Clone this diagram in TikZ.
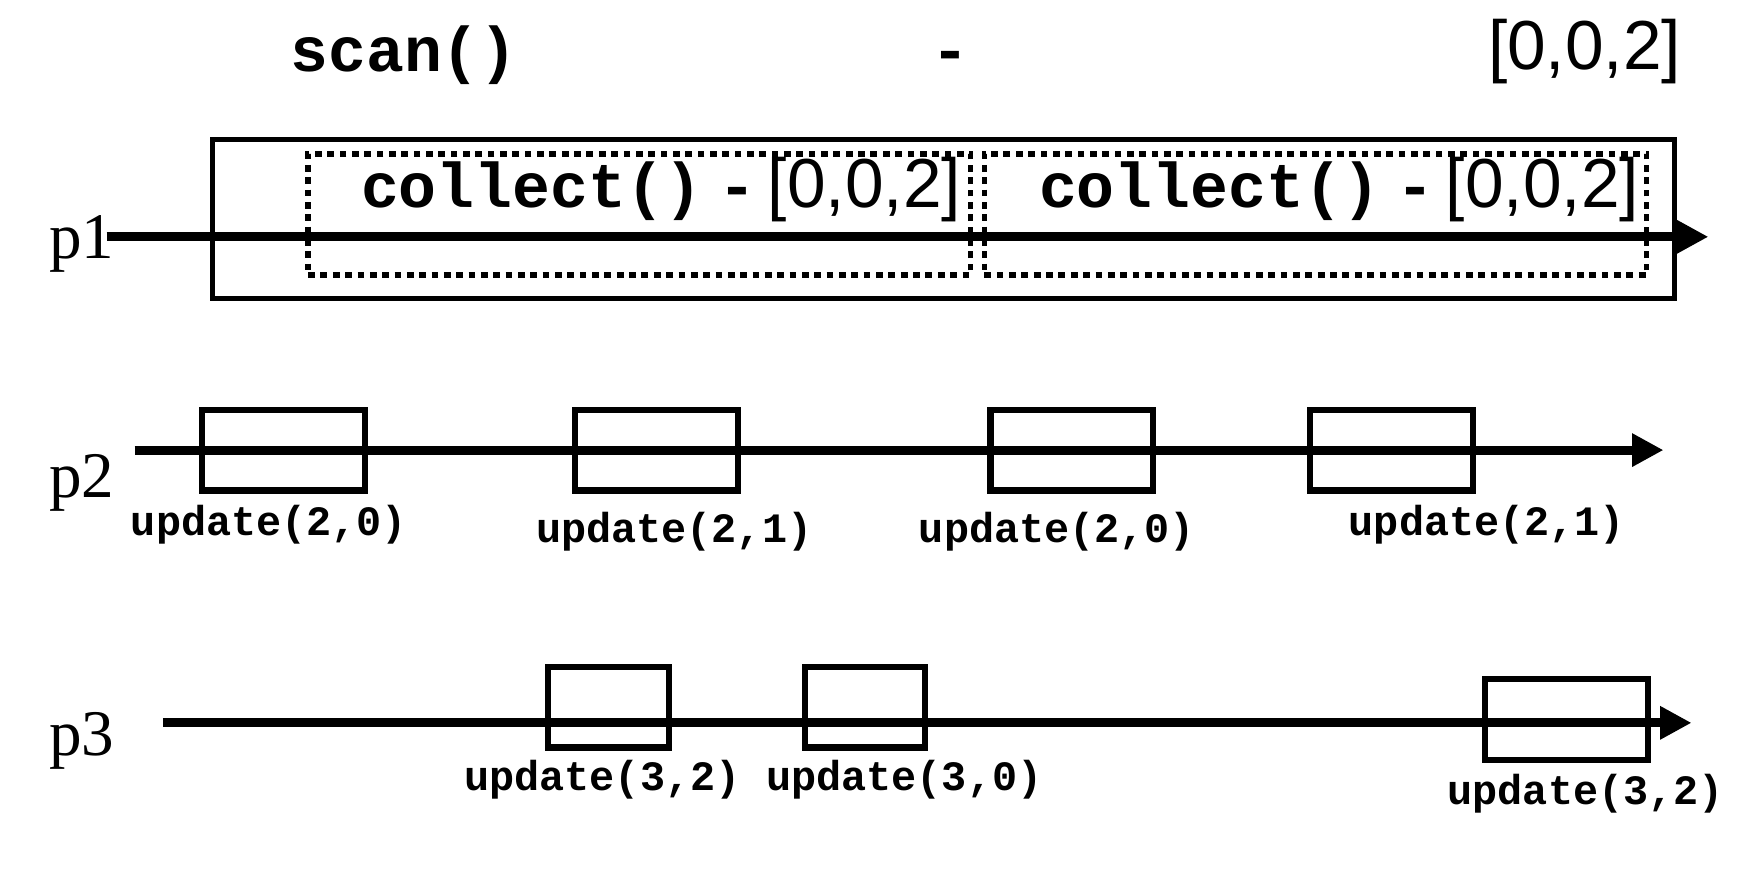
\documentclass[tikz,border=0pt]{standalone}
\usepackage{fontspec}
\setmainfont{Liberation Serif}
\newfontfamily\codefont{Liberation Mono}
\newfontfamily\numfont{Liberation Sans}
\usetikzlibrary{arrows.meta}

\newcommand\bigcode[1]{{\codefont\bfseries\fontsize{16}{18}\selectfont #1}}
\newcommand\smallcode[1]{{\codefont\bfseries\fontsize{10.6}{12}\selectfont #1}}
\newcommand\vect[1]{{\numfont\fontsize{17.6}{20}\selectfont #1}}

\begin{document}
\begin{tikzpicture}[
        >={Triangle[length=0.28cm,width=0.28cm]},
        timeline/.style={->, line width=0.08cm},
        updbox/.style={draw, line width=0.055cm, minimum width=1.45cm, minimum height=0.72cm, inner sep=0pt},
        collectbox/.style={draw, line width=0.05cm, dash pattern=on 0.06cm off 0.05cm, minimum width=5.9cm, minimum height=1.08cm, inner sep=0pt},
        txt/.style={inner sep=0pt, anchor=base west},
        proc/.style={inner sep=0pt, anchor=base west, font=\fontsize{16.5}{19}\selectfont}
        ]
            \useasboundingbox (0, 0) rectangle (15.68, 7.86);
            %\draw[lightgray] (0, 0) grid (15, 7);

            % scan() on top
            \node[txt] (scan) at (2.58, 7.22) {\bigcode{scan()}};
            \node[inner sep=0pt, anchor=base] (dash) at (8.47, 7.22) {\bigcode{-}};
            \node[txt] (result) at (13.25, 7.24) {\vect{[0,0,2]}};

            % p1
            \node[proc] (p1) at (0.43, 5.56) {p1};
            \node[draw, line width=0.045cm, minimum width=13.03cm, minimum height=1.42cm, inner sep=0pt] (scanbox) at (8.405, 5.91) {};
            \node[collectbox] (col1) at (5.695, 5.95) {};
            \node[collectbox] (col2) at (11.72, 5.95) {};
            \node[txt] (col1txt) at (3.21, 6.01) {\bigcode{collect()\hspace{0.15cm}-\hspace{0.1cm}}\vect{[0,0,2]}};
            \node[txt] (col2txt) at (9.25, 6.01) {\bigcode{collect()\hspace{0.15cm}-\hspace{0.1cm}}\vect{[0,0,2]}};
            \coordinate (p1s) at (0.95, 5.75);
            \coordinate (p1e) at (15.22, 5.75);
            \draw[timeline] (p1s) -- (p1e);

            % p2
            \node[proc] (p2) at (0.43, 3.43) {p2};
            \node[updbox] (u21) at (2.525, 3.85) {};
            \node[updbox] (u22) at (5.85, 3.85) {};
            \node[updbox] (u23) at (9.55, 3.85) {};
            \node[updbox] (u24) at (12.395, 3.85) {};
            \node[txt] (l21) at (1.16, 3.09) {\smallcode{update(2,0)}};
            \node[txt] (l22) at (4.77, 3.03) {\smallcode{update(2,1)}};
            \node[txt] (l23) at (8.18, 3.03) {\smallcode{update(2,0)}};
            \node[txt] (l24) at (12.01, 3.09) {\smallcode{update(2,1)}};
            \coordinate (p2s) at (1.20, 3.85);
            \coordinate (p2e) at (14.82, 3.85);
            \draw[timeline] (p2s) -- (p2e);

            % p3
            \node[proc] (p3) at (0.43, 1.13) {p3};
            \node[updbox, minimum width=1.08cm] (u31) at (5.42, 1.56) {};
            \node[updbox, minimum width=1.07cm] (u32) at (7.705, 1.56) {};
            \node[updbox] (u33) at (13.955, 1.45) {};
            \node[txt] (l31) at (4.13, 0.82) {\smallcode{update(3,2)}};
            \node[txt] (l32) at (6.82, 0.82) {\smallcode{update(3,0)}};
            \node[txt] (l33) at (12.89, 0.69) {\smallcode{update(3,2)}};
            \coordinate (p3s) at (1.45, 1.42);
            \coordinate (p3e) at (15.07, 1.42);
            \draw[timeline] (p3s) -- (p3e);
        \end{tikzpicture}
\end{document}
